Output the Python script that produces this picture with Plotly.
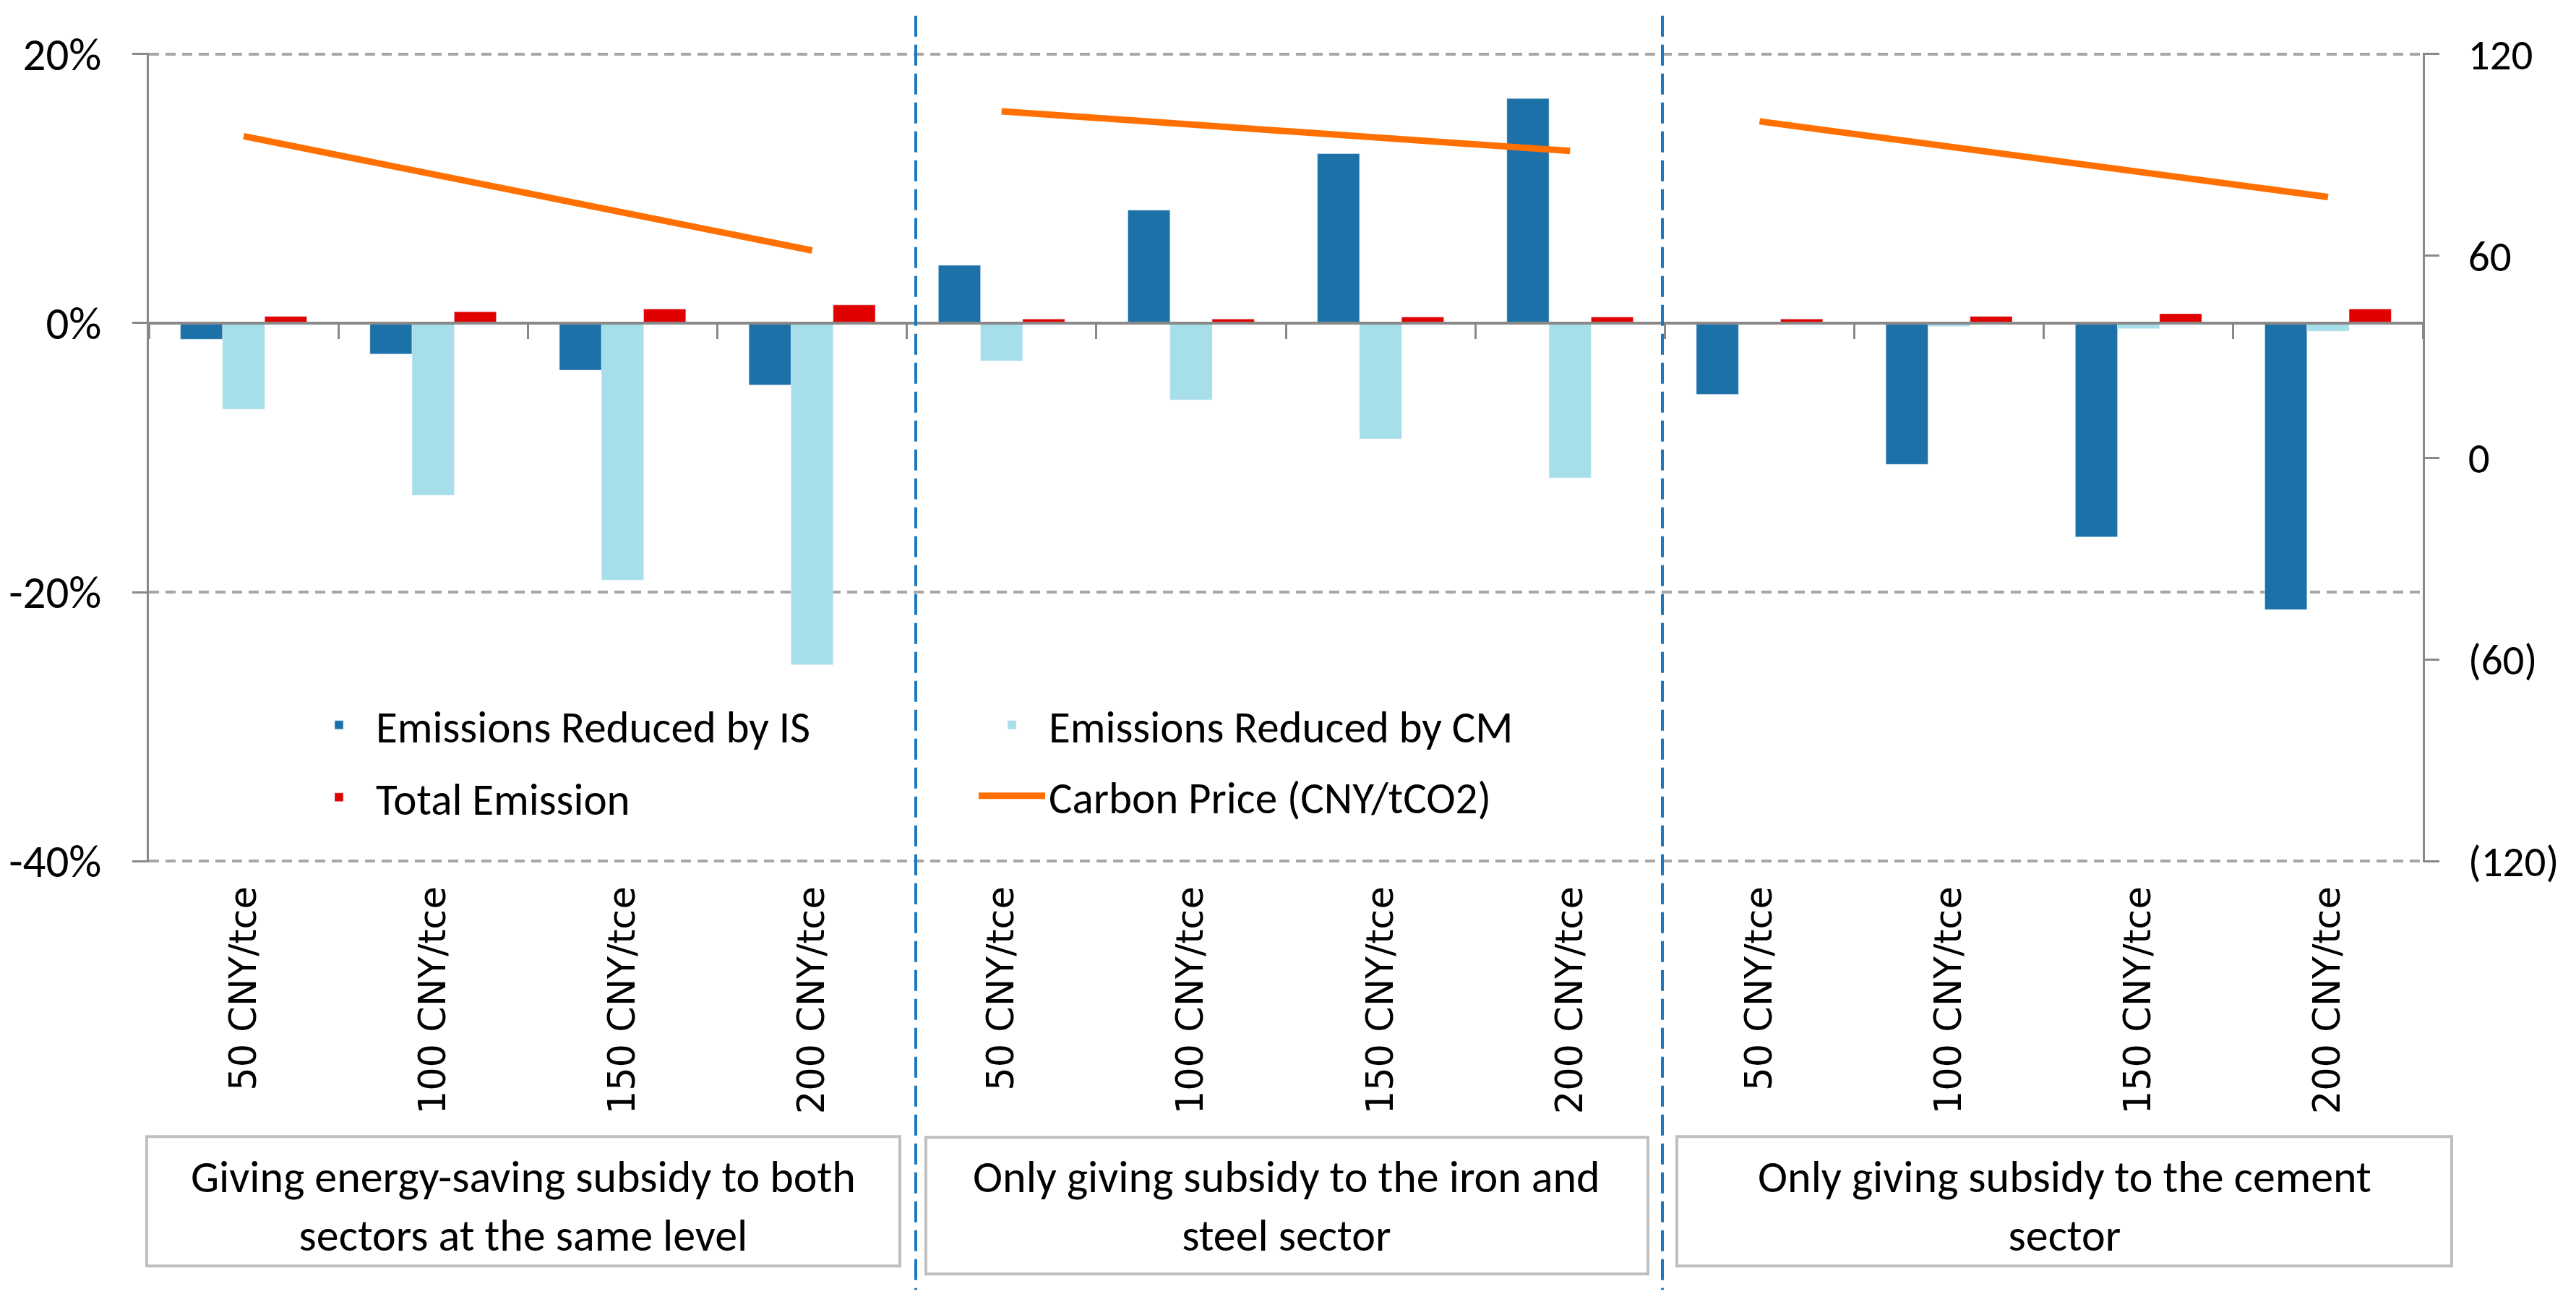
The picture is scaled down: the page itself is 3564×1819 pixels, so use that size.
import plotly.graph_objects as go

# --- data (percent change / CNY per tCO2) ---
groups = [
    "Giving energy-saving subsidy to both<br>sectors at the same level",
    "Only giving subsidy to the iron and<br>steel sector",
    "Only giving subsidy to the cement<br>sector",
]
levels = ["50 CNY/tce", "100 CNY/tce", "150 CNY/tce", "200 CNY/tce"]

is_reduced = [-1.2, -2.3, -3.5, -4.6, 4.3, 8.4, 12.6, 16.7, -5.3, -10.5, -15.9, -21.3]
cm_reduced = [-6.4, -12.8, -19.1, -25.4, -2.8, -5.7, -8.6, -11.5, -0.05, -0.25, -0.4, -0.6]
total_emission = [0.5, 0.85, 1.05, 1.35, 0.3, 0.3, 0.45, 0.45, 0.3, 0.5, 0.7, 1.05]
carbon_price = [95.6, 84.3, 72.8, 61.6, 103.0, 99.1, 95.1, 91.2, 100.0, 92.5, 85.0, 77.5]

left_ticks = [-40, -20, 0, 20]
left_ticktext = ["-40%", "-20%", "0%", "20%"]
right_ticks = [-120, -60, 0, 60, 120]
right_ticktext = ["(120)", "(60)", "0", "60", "120"]

keys = [f"{g}|{lv}" for g in range(len(groups)) for lv in levels]
tick_labels = [lv for _ in groups for lv in levels]

# --- page geometry (screen px of the 3564x1819 window; body has 8px margin) ---
OFF = 8
W, H = 3564 - 2 * OFF, 1819 - 2 * OFF
L, R = 206, 3352
Y_TOP, Y_BOT = 75, 1191          # screen y of 20% and -40%
PAD = 0.1                        # tiny range pad so the end gridlines get drawn
k = (Y_BOT - Y_TOP) / (left_ticks[-1] - left_ticks[0])
T, B = Y_TOP - PAD * k, Y_BOT + PAD * k
y_rng = [left_ticks[0] - PAD, left_ticks[-1] + PAD]
y2_pad = PAD * (right_ticks[-1] - right_ticks[0]) / (left_ticks[-1] - left_ticks[0])
y2_rng = [right_ticks[0] - y2_pad, right_ticks[-1] + y2_pad]


def px(x):
    return (x - L) / (R - L)


def py(y):
    return (B - y) / (B - T)


CAL = "Carlito, Lato, sans-serif"
GREY = "#898989"
C_IS, C_CM, C_TOT, C_CP = "#1C71A8", "#A6DFE9", "#E00000", "#FF7000"

fig = go.Figure()
fig.add_trace(go.Bar(x=keys, y=is_reduced, name="Emissions Reduced by IS",
                     marker_color=C_IS, legend="legend"))
fig.add_trace(go.Bar(x=keys, y=cm_reduced, name="Emissions Reduced by CM",
                     marker_color=C_CM, legend="legend2"))
fig.add_trace(go.Bar(x=keys, y=total_emission, name="Total Emission",
                     marker_color=C_TOT, legend="legend3"))

# carbon price: one segment per scenario group, on the secondary axes
n = len(levels)
for gi in range(len(groups)):
    fig.add_trace(go.Scatter(
        x=keys[gi * n:(gi + 1) * n], y=carbon_price[gi * n:(gi + 1) * n],
        xaxis="x2", yaxis="y2", mode="lines",
        line=dict(color=C_CP, width=9),
        name="Carbon Price (CNY/tCO2)", legendgroup="cp",
        showlegend=(gi == 0), legend="legend4",
    ))

# group boxes and dashed separators
shapes = []
for x0, x1, y0, y1 in [(203, 1245, 1572, 1751), (1281, 2280, 1573, 1762), (2320, 3392, 1572, 1751)]:
    shapes.append(dict(type="rect", xref="paper", yref="paper",
                       x0=px(x0), x1=px(x1), y0=py(y0), y1=py(y1),
                       line=dict(color="#BFBFBF", width=4)))
for xs in [1267, 2300]:
    shapes.append(dict(type="line", xref="paper", yref="paper",
                       x0=px(xs), x1=px(xs), y0=py(22), y1=py(1784),
                       line=dict(color="#1B78C0", width=4, dash="29px,11px")))

annotations = []
for cx, text in zip([724, 1780, 2856], groups):
    annotations.append(dict(xref="paper", yref="paper", x=px(cx), y=py(1668),
                            xanchor="center", yanchor="middle", text=text,
                            showarrow=False, font=dict(family=CAL, size=62, color="black")))

legend_base = dict(xanchor="left", yanchor="middle", bgcolor="rgba(0,0,0,0)",
                   borderwidth=0, itemwidth=92,
                   font=dict(family=CAL, size=61, color="black"))
legends = {}
for name, (lx, ly) in {"legend": (418, 1003), "legend2": (1349, 1003),
                       "legend3": (418, 1103), "legend4": (1349, 1101)}.items():
    legends[name] = dict(legend_base, x=px(lx), y=py(ly))

fig.update_layout(
    width=W, height=H,
    margin=dict(l=L - OFF, r=W - (R - OFF), t=T - OFF, b=H - (B - OFF), pad=0,
                autoexpand=False),
    plot_bgcolor="white", paper_bgcolor="white",
    barmode="group", bargap=0.333, bargroupgap=0,
    showlegend=True,
    xaxis=dict(type="category", range=[-0.5, len(keys) - 0.5], automargin=False,
               tickvals=keys, ticktext=tick_labels, tickangle=-90,
               tickfont=dict(family="DejaVu Sans", size=51, color="black"),
               ticks="", showgrid=False, zeroline=False, showline=False,
               ticklabelstandoff=22),
    xaxis2=dict(type="category", overlaying="x", anchor="free", automargin=False,
                position=py(Y_TOP + (0 - left_ticks[-1]) * -k),
                range=[-0.5, len(keys) - 0.5], showticklabels=False,
                showgrid=False, zeroline=False, showline=True,
                linecolor=GREY, linewidth=4, ticks="outside", tickson="boundaries",
                ticklen=20, tickwidth=3, tickcolor=GREY),
    yaxis=dict(range=y_rng, tickvals=left_ticks, automargin=False,
               ticktext=left_ticktext, tickfont=dict(family=CAL, size=63, color="black"),
               showgrid=True, gridcolor="#A6A6A6", gridwidth=4, griddash="14px,9px",
               zeroline=False, showline=True, linecolor=GREY, linewidth=3,
               ticks="outside", ticklen=20, tickwidth=3, tickcolor=GREY,
               ticklabelstandoff=30),
    yaxis2=dict(overlaying="y", side="right", anchor="x", automargin=False,
                range=y2_rng, tickvals=right_ticks,
                ticktext=right_ticktext, tickfont=dict(family=CAL, size=59, color="black"),
                showgrid=False, zeroline=False, showline=True, linecolor=GREY,
                linewidth=3, ticks="outside", ticklen=20, tickwidth=3,
                tickcolor=GREY, ticklabelstandoff=28),
    shapes=shapes,
    annotations=annotations,
    **legends,
)

fig.write_html("out.html")
